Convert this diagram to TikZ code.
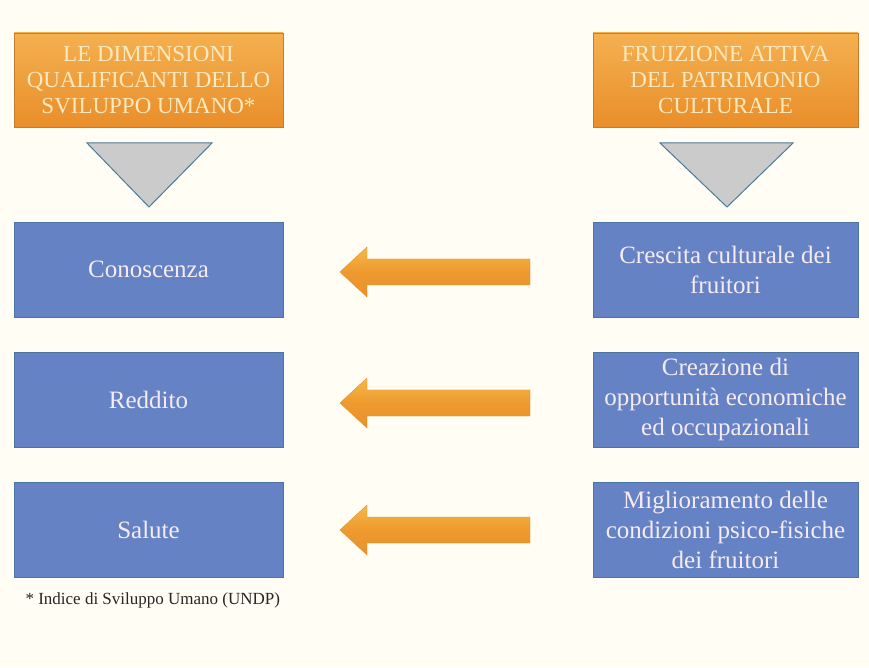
\documentclass[tikz,border=0pt]{standalone}
\usepackage{fontspec}
\setmainfont{Liberation Serif}
\begin{document}
\begin{tikzpicture}[x=1pt,y=1pt,
  bg/.style={fill=bgcol,draw=none},
  headbox/.style={draw=orgdark,line width=0.8pt,top color=orgtop,bottom color=orgbot,
    minimum height=94pt,text=orgtext,align=center,font=\fontsize{23}{26}\selectfont,inner sep=1pt},
  bluebox/.style={draw=bluedark,line width=0.8pt,fill=bluefill,minimum height=95pt,
    text=bluetext,align=center,font=\fontsize{25}{30}\selectfont,inner sep=1pt},
  tri/.style={draw=tridraw,line width=1pt,fill=trifill},
  blockarrow/.style={draw=arrdraw,line width=0.4pt,top color=arrtop,bottom color=arrbot,middle color=arrmid}
]
\definecolor{bgcol}{HTML}{FFFDF4}
\definecolor{orgtop}{HTML}{F5B050}
\definecolor{orgbot}{HTML}{E98E2A}
\definecolor{orgdark}{HTML}{C87A30}
\definecolor{orgtext}{HTML}{FBE9BE}
\definecolor{bluefill}{HTML}{6582C5}
\definecolor{bluedark}{HTML}{4C74A0}
\definecolor{bluetext}{HTML}{F7EBF2}
\definecolor{tridraw}{HTML}{4A7C9C}
\definecolor{trifill}{HTML}{CBCBCB}
\definecolor{arrtop}{HTML}{F6B848}
\definecolor{arrmid}{HTML}{EE9A2E}
\definecolor{arrbot}{HTML}{E8922C}
\definecolor{arrdraw}{HTML}{E09030}
\path[bg] (0,0) rectangle (869,667);
\useasboundingbox (0,0) rectangle (869,667);
% header boxes
\node[headbox,minimum width=269pt] (hl) at (148.5,587) {LE DIMENSIONI\\QUALIFICANTI DELLO\\SVILUPPO UMANO*};
\node[headbox,minimum width=265pt] (hr) at (725.5,587) {FRUIZIONE ATTIVA\\DEL PATRIMONIO\\CULTURALE};
% triangles
\draw[tri] (87,524) -- (212,524) -- (149,460) -- cycle;
\draw[tri] (660,524) -- (793,524) -- (727,460) -- cycle;
% left boxes
\node[bluebox,minimum width=269pt] (l1) at (148.5,397.5) {Conoscenza};
\node[bluebox,minimum width=269pt] (l2) at (148.5,267.5) {Reddito};
\node[bluebox,minimum width=269pt] (l3) at (148.5,137) {Salute};
% right boxes
\node[bluebox,minimum width=265pt] (r1) at (725.5,397.5) {Crescita culturale dei\\fruitori};
\node[bluebox,minimum width=265pt] (r2) at (725.5,267.5) {Creazione di\\opportunità economiche\\ed occupazionali};
\node[bluebox,minimum width=265pt] (r3) at (725.5,137) {Miglioramento delle\\condizioni psico-fisiche\\dei fruitori};
% block arrows
\foreach \yy in {395,264,137}{
  \draw[blockarrow] (530,\yy+13) -- (367,\yy+13) -- (367,\yy+25) -- (340,\yy) -- (367,\yy-25) -- (367,\yy-13) -- (530,\yy-13) -- cycle;
}
% footnote
\node[anchor=west,font=\fontsize{17}{20}\selectfont,text=black!85] (fn) at (22,67) {* Indice di Sviluppo Umano (UNDP)};
\end{tikzpicture}
\end{document}
